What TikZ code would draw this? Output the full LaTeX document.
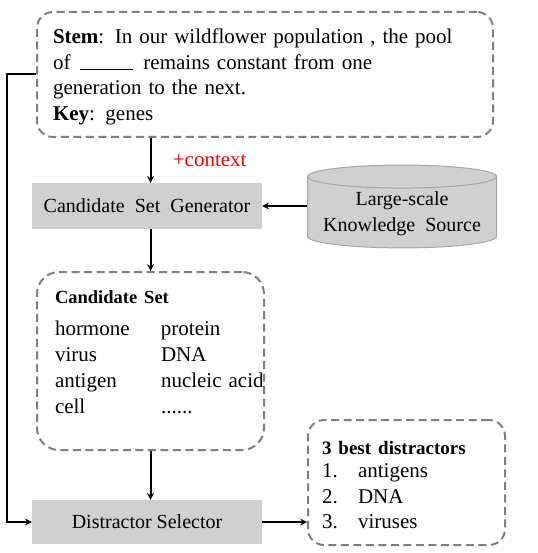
\documentclass[tikz,border=0pt]{standalone}
\usepackage{fontspec}
\setmainfont{Liberation Serif}
\usepackage{tikz}
\usepackage{color}
\definecolor{boxgray}{HTML}{D0D0D0}
\definecolor{dashgray}{HTML}{7F7F7F}
\definecolor{cylgray}{HTML}{A6A6A6}
\tikzstyle{dashbox} = [rectangle, draw = dashgray, line width = 2pt, dash pattern = on 8pt off 4.5pt, align = left]
\tikzstyle{process} = [rectangle, fill = boxgray, minimum width = 230pt, minimum height = 46pt, font = \fontsize{20}{24}\selectfont]
\tikzstyle{store} = [cylinder, shape border rotate = 90, aspect = 0.14, draw = cylgray, line width = 1pt, fill = boxgray, minimum width = 189pt, minimum height = 80pt, align = center, font = \fontsize{20}{26}\selectfont]
\tikzstyle{arrow} = [->,>=stealth, line width = 2pt]
\usetikzlibrary{shapes.geometric, arrows}

\begin{document}
\begin{tikzpicture}[x = 1pt, y = -1pt]
			\useasboundingbox (0,0) rectangle (537,553);

			%--Generator--%
			\node(gen)[process] at (147,206){Candidate\ \ Set\ \ Generator};

			%--Question Box--%
			\node(stem)[dashbox, rounded corners = 16pt, minimum width = 456pt, minimum height = 125pt, text width = 424pt, inner xsep = 16pt, font = \fontsize{21}{25.5}\selectfont, above of = gen, node distance = 131.5pt, xshift = 118pt]{\rule{0pt}{20pt}\textbf{Stem}: In our wildflower population , the pool\\ of\hspace{10pt}\rule[-1pt]{53pt}{1pt}\hspace{10pt}remains constant from one\\ generation to the next.\\ \textbf{Key}: genes};

			%--Knowledge Source--%
			\node(know)[store, right of = gen, node distance = 255pt, yshift = -8pt]{Large-scale\\ Knowledge\ \ Source};

			%--Candidate Set--%
			\node(cand)[dashbox, rounded corners = 22pt, minimum width = 227pt, minimum height = 178pt, text width = 191pt, inner xsep = 18pt, font = \fontsize{21}{25.7}\selectfont, below of = gen, node distance = 155pt, xshift = 3.5pt]{{\bfseries\fontsize{18.5}{20}\selectfont Candidate Set}\\[13pt]
				\begin{tabular}{@{}p{106pt}@{}l@{}}
					hormone & protein\\
					virus & DNA\\
					antigen & nucleic acid\\
					cell & ......\rule[-18pt]{0pt}{0pt}
				\end{tabular}};

			%--Selector--%
			\node(sel)[process, minimum height = 44pt, below of = gen, node distance = 316pt]{Distractor Selector};

			%--Output--%
			\node(best)[dashbox, rounded corners = 16pt, minimum width = 197pt, minimum height = 125pt, text width = 169pt, inner xsep = 14pt, font = \fontsize{21}{25.5}\selectfont, right of = sel, node distance = 259.5pt, yshift = 39.5pt]{\rule{0pt}{26pt}{\bfseries\fontsize{19}{20}\selectfont 3 best distractors}\\[4pt]
				\begin{tabular}{@{}p{36pt}@{}l@{}}
					1. & antigens\\
					2. & DNA\\
					3. & viruses
				\end{tabular}};

			%--Arrows--%
			\draw[arrow] (stem.south -| cand) -- node[anchor = west, xshift = 18pt, text = red, font = \fontsize{21}{24}\selectfont]{+context} (gen.north -| cand);
			\draw[arrow] (gen.east -| know.west) -- (gen.east);
			\draw[arrow] (gen.south -| cand) -- (cand.north);
			\draw[arrow] (cand.south) -- (sel.north -| cand);
			\draw[arrow] (sel.east) -- (sel.east -| best.west);
			\draw[arrow] (stem.west) -- ++(-29,0) |- (sel.west);
		\end{tikzpicture}
\end{document}
